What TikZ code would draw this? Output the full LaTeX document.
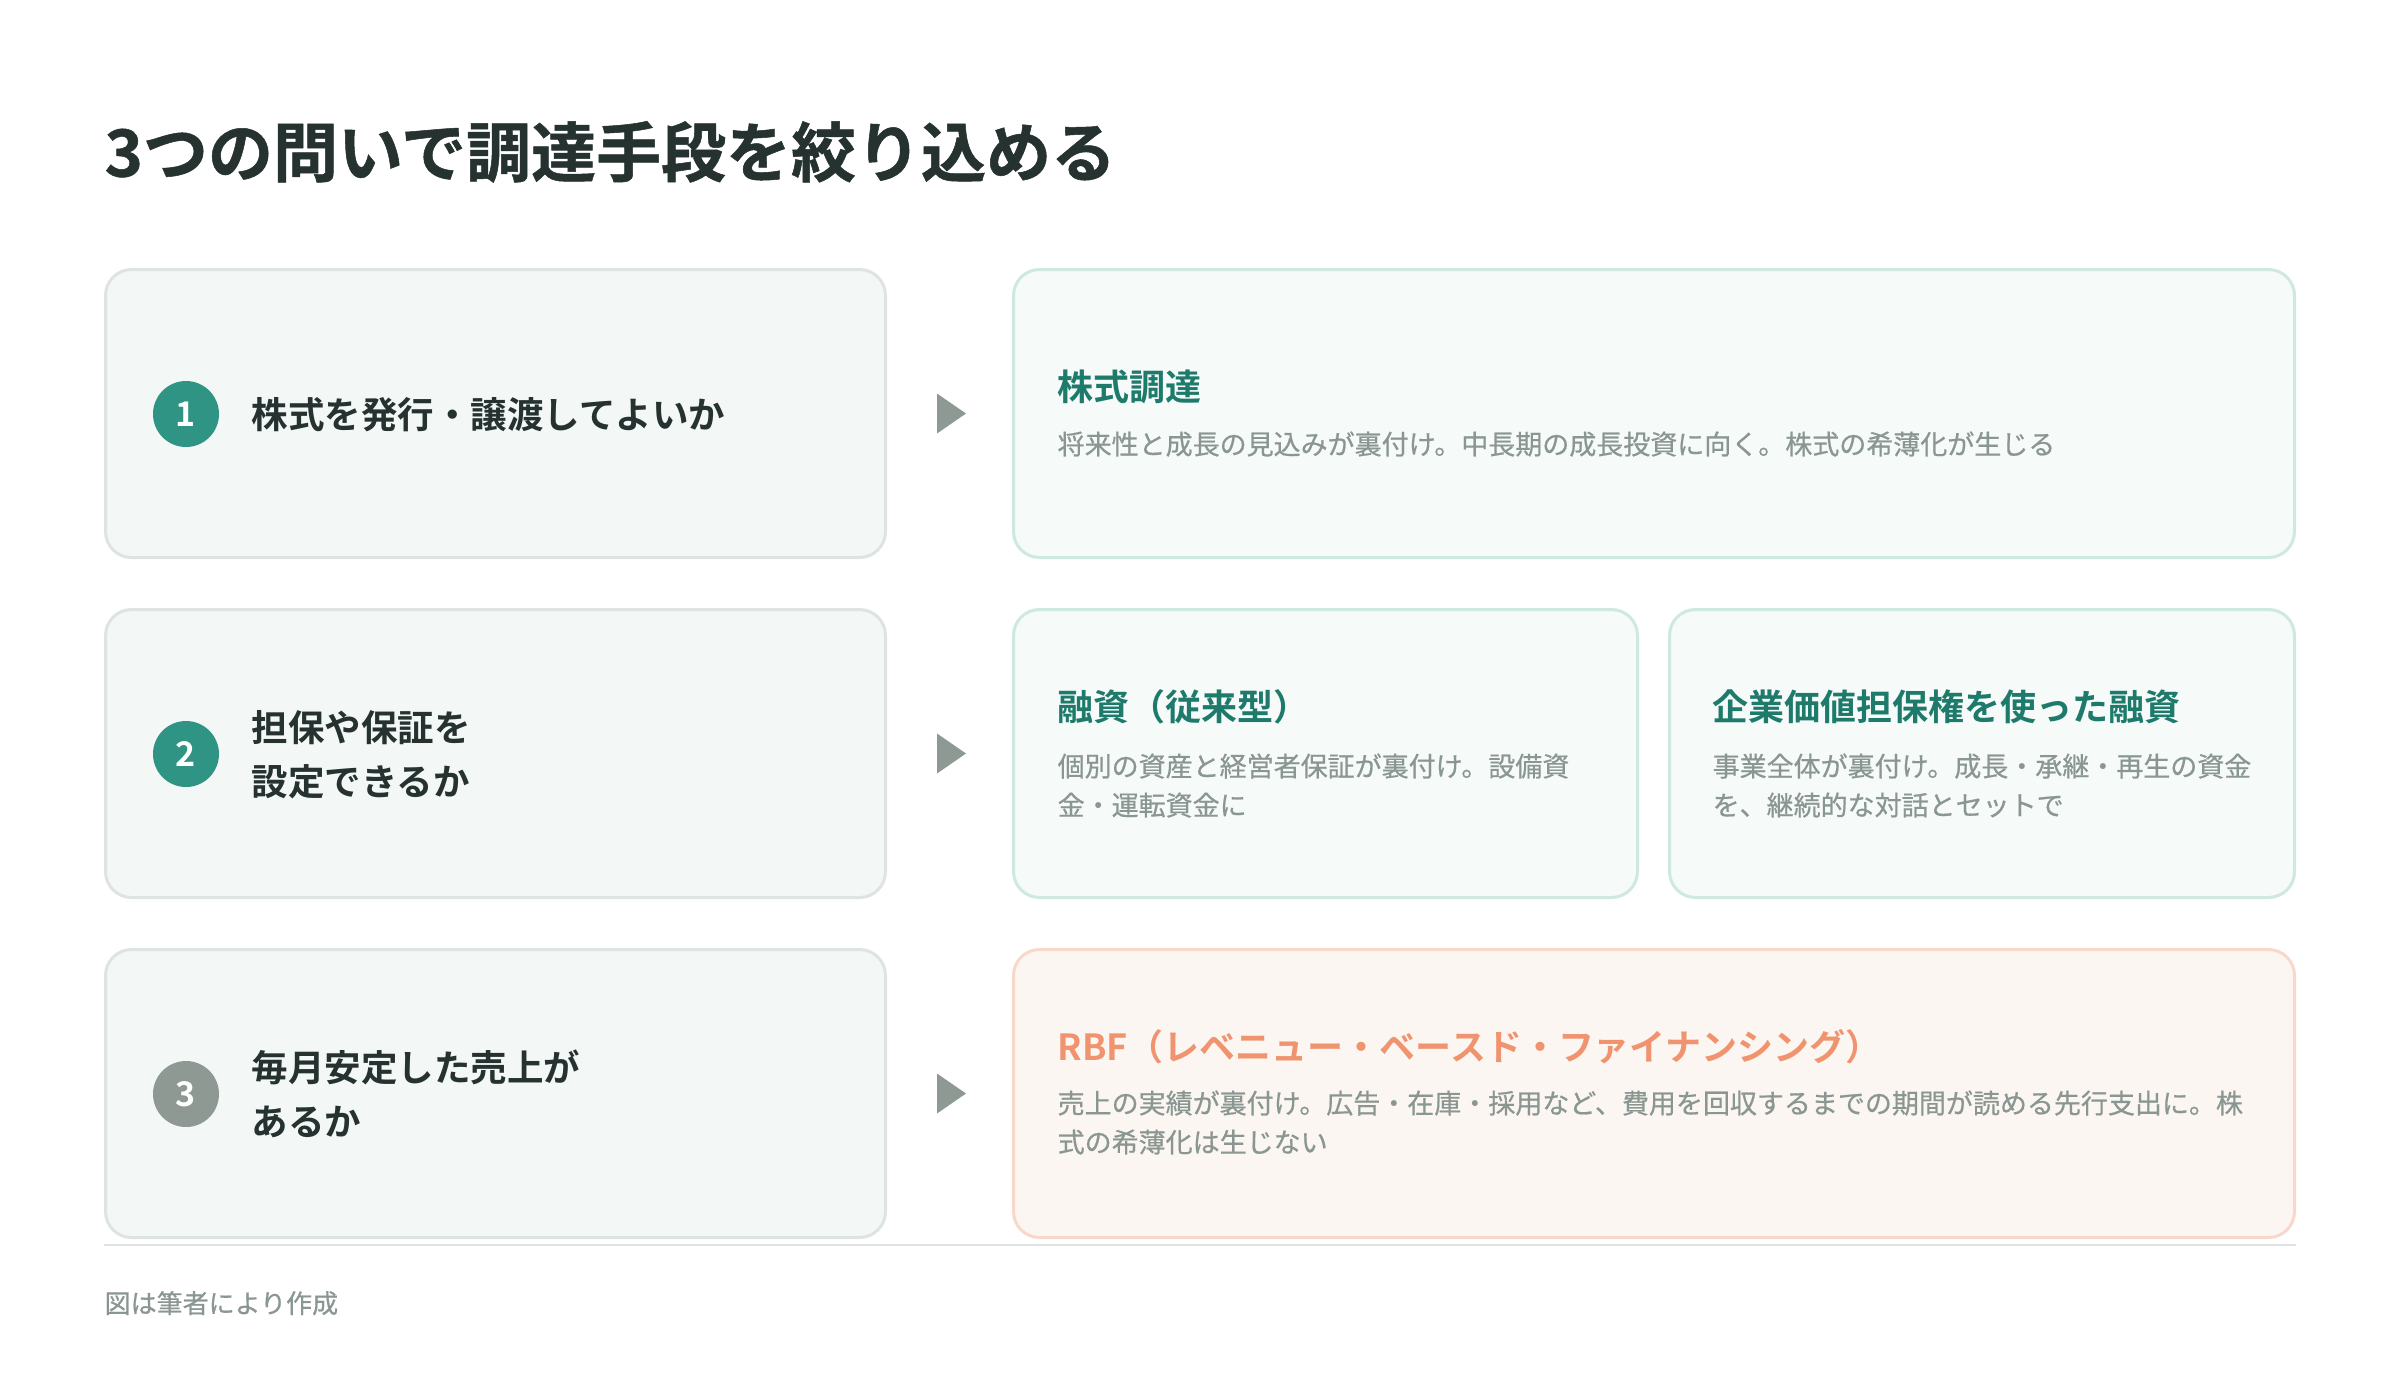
\documentclass[tikz,border=0pt]{standalone}
\usepackage{fontspec}
\setmainfont{Noto Sans CJK JP}[BoldFont={* Bold}]
\newfontfamily\descfont{Noto Sans CJK JP}[FakeBold=0.6]
\newfontfamily\heavyfont{Noto Sans CJK JP Bold}[FakeBold=0.8]
\usetikzlibrary{calc}
\definecolor{textdark}{HTML}{253230}
\definecolor{teal}{HTML}{1E7B6B}
\definecolor{tealcirc}{HTML}{2F9484}
\definecolor{descgray}{HTML}{8A9691}
\definecolor{leftfill}{HTML}{F3F7F6}
\definecolor{leftborder}{HTML}{DEE4E2}
\definecolor{greenfill}{HTML}{F6FAF9}
\definecolor{greenborder}{HTML}{CFE8E2}
\definecolor{orangefill}{HTML}{FCF6F2}
\definecolor{orangeborder}{HTML}{F8D8CB}
\definecolor{orangetext}{HTML}{EF946F}
\definecolor{midgray}{HTML}{8E9994}
\definecolor{rulegray}{HTML}{DEE3E1}
\tikzset{
  boxbase/.style={line width=0.9pt, rounded corners=7.8pt, inner sep=0pt, minimum height=86.4pt},
  qbox/.style={boxbase, draw=leftborder, fill=leftfill, minimum width=234pt},
  gbox/.style={boxbase, draw=greenborder, fill=greenfill},
  obox/.style={boxbase, draw=orangeborder, fill=orangefill},
  numcirc/.style={circle, inner sep=0pt, minimum size=19.8pt, text=white, font=\fontsize{10.2pt}{10.2pt}\selectfont\bfseries},
  qtext/.style={anchor=base west, inner sep=0pt, align=left, text=textdark, font=\fontsize{10.95pt}{16.2pt}\selectfont\bfseries},
  atitle/.style={anchor=base west, inner sep=0pt, font=\fontsize{10.8pt}{10.8pt}\selectfont\bfseries},
  adesc/.style={anchor=base west, inner sep=0pt, align=left, text=descgray, font=\fontsize{8.1pt}{11.7pt}\selectfont\descfont},
  tri/.style={fill=midgray}
}
\begin{document}
\begin{tikzpicture}[x=0.3pt,y=-0.3pt]
\useasboundingbox[fill=white] (0,0) rectangle (2400,1380);

\node[anchor=base west, inner sep=0pt, text=textdark, font=\fontsize{19.5pt}{19.5pt}\selectfont\heavyfont] (title) at (104,176.5) {3つの問いで調達手段を絞り込める};

% row boxes
\node[qbox] (q1) at (495.5,413.5) {};
\node[qbox] (q2) at (495.5,753.5) {};
\node[qbox] (q3) at (495.5,1093.5) {};
\node[gbox, minimum width=384.3pt] (a1) at (1654,413.5) {};
\node[gbox, minimum width=187.2pt] (a2) at (1325.5,753.5) {};
\node[gbox, minimum width=187.5pt] (a2b) at (1982,753.5) {};
\node[obox, minimum width=384.3pt] (a3) at (1654,1093.5) {};

% numbers
\node[numcirc, fill=tealcirc] (n1) at (186,414) {1};
\node[numcirc, fill=tealcirc] (n2) at (186,754) {2};
\node[numcirc, fill=midgray] (n3) at (186,1094) {3};

% questions (base anchor = last line's baseline)
\node[qtext] (t1) at (251,428) {株式を発行・譲渡してよいか};
\node[qtext] (t2) at (251,795) {担保や保証を\\設定できるか};
\node[qtext] (t3) at (251,1135) {毎月安定した売上が\\あるか};

% arrows
\foreach \r in {1,2,3}{
  \fill[tri] ($(q\r.east)+(50,-20)$) -- ++(29,20) -- ++(-29,20) -- cycle;
}

% answers
\node[atitle, text=teal] (h1) at (1057,400.7) {株式調達};
\node[adesc] (d1) at (1057,454.3) {将来性と成長の見込みが裏付け。中長期の成長投資に向く。株式の希薄化が生じる};

\node[atitle, text=teal] (h2) at (1057,720.7) {融資（従来型）};
\node[adesc] (d2) at (1057,815.3) {個別の資産と経営者保証が裏付け。設備資\\金・運転資金に};

\node[atitle, text=teal] (h2b) at (1712,720.7) {企業価値担保権を使った融資};
\node[adesc] (d2b) at (1712,815.3) {事業全体が裏付け。成長・承継・再生の資金\\を、継続的な対話とセットで};

\node[atitle, text=orangetext] (h3) at (1057,1060.7) {RBF（レベニュー・ベースド・ファイナンシング）};
\node[adesc] (d3) at (1057,1152.3) {売上の実績が裏付け。広告・在庫・採用など、費用を回収するまでの期間が読める先行支出に。株\\式の希薄化は生じない};

% rule and footer
\coordinate (r1) at (104,1245);
\coordinate (r2) at (2296,1245);
\draw[rulegray, line width=0.6pt] (r1) -- (r2);
\node[anchor=base west, inner sep=0pt, text=descgray, font=\fontsize{7.8pt}{7.8pt}\selectfont\descfont] (foot) at (104,1313) {図は筆者により作成};
\end{tikzpicture}
\end{document}
